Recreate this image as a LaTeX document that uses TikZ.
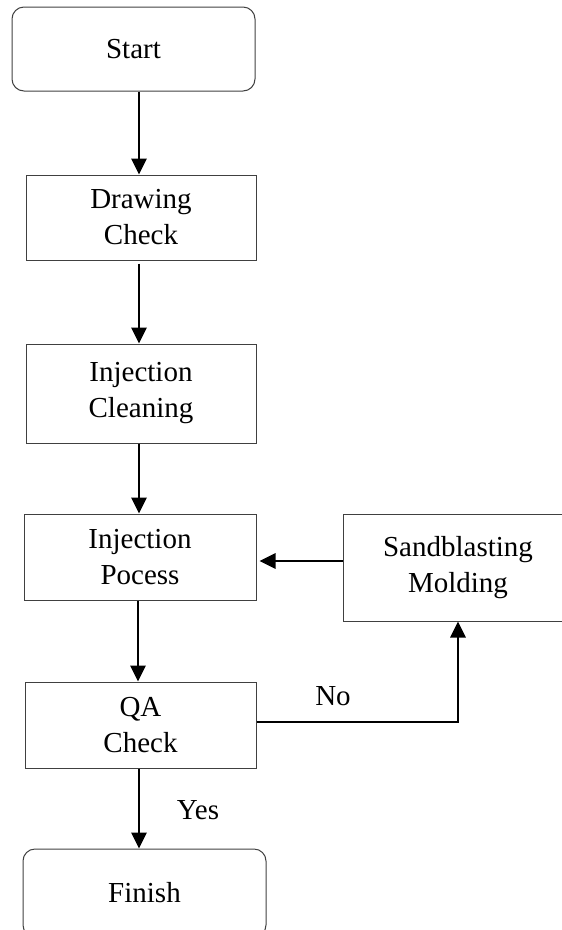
\documentclass[tikz,border=0pt]{standalone}
\usepackage{fontspec}
\setmainfont{Liberation Serif}
\usetikzlibrary{arrows.meta}
\begin{document}
\begin{tikzpicture}[x=1pt,y=-1pt,
  every node/.style={font=\fontsize{29}{36}\selectfont, align=center, inner sep=0pt},
  box/.style={draw=black!75, line width=1pt, minimum width=#1},
  rbox/.style={box=#1, rounded corners=12pt},
  arr/.style={line width=2.9pt, -{Triangle[length=16pt,width=15pt]}},
  lbl/.style={}]
\useasboundingbox (0,0) rectangle (562,930);
\clip (0,0) rectangle (562,930);
\node[rbox=243pt, minimum height=84pt] (start) at (133.5,49) {Start};
\node[box=230pt, minimum height=85pt] (dcheck) at (141,217.5) {Drawing\\Check};
\node[box=230pt, minimum height=99pt] (clean) at (141,393.5) {Injection\\Cleaning};
\node[box=232pt, minimum height=86pt] (inj) at (140,557) {Injection\\Pocess};
\node[box=230pt, minimum height=107pt] (sand) at (458,567.5) {Sandblasting\\Molding};
\node[box=231pt, minimum height=86pt] (qa) at (140.5,725) {QA\\Check};
\node[rbox=243pt, minimum height=88pt] (finish) at (144.5,893) {Finish};
\node[lbl] (no) at (333,696) {No};
\node[lbl] (yes) at (198,810) {Yes};
\draw[arr] (start.south -| 139,0) -- (dcheck.north -| 139,0);
\draw[arr] ([yshift=-3pt]dcheck.south -| 139,0) -- (clean.north -| 139,0);
\draw[arr] (clean.south -| 139,0) -- (inj.north -| 139,0);
\draw[arr] (inj.south -| 138,0) -- (qa.north -| 138,0);
\draw[arr] (qa.south -| 139,0) -- (finish.north -| 139,0);
\draw[arr] (sand.west |- 0,561) -- ([xshift=3pt]inj.east |- 0,561);
\draw[arr] (qa.east |- 0,722) -| (sand.south -| 458,0);
\end{tikzpicture}
\end{document}
